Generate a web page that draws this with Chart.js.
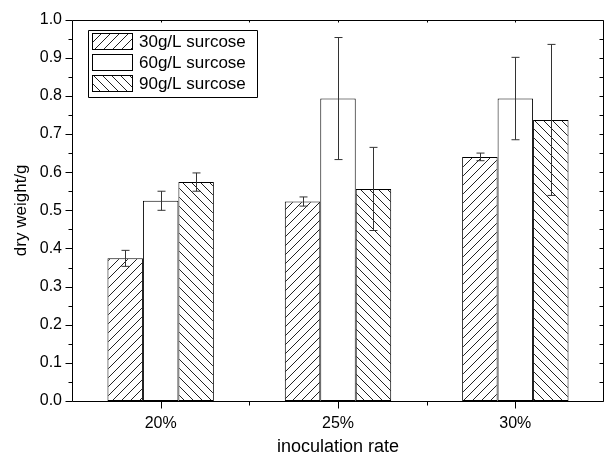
<!DOCTYPE html>
<html>
<head>
<meta charset="utf-8">
<script src="https://cdn.jsdelivr.net/npm/chart.js@4/dist/chart.umd.min.js"></script>
<style>
  body { margin: 0; background: #fff; }
  canvas { display: block; }
</style>
</head>
<body>
<canvas id="grafico" width="607" height="458"></canvas>
<script>
// dados
const categories = ['20%', '25%', '30%'];
const seriesNames = ['30g/L surcose', '60g/L surcose', '90g/L surcose'];
const dry30 = [0.374, 0.523, 0.640];
const err30 = [0.021, 0.012, 0.010];
const dry60 = [0.525, 0.793, 0.793];
const err60 = [0.025, 0.160, 0.108];
const dry90 = [0.574, 0.556, 0.737];
const err90 = [0.024, 0.109, 0.198];
const yTicks = [0, 0.1, 0.2, 0.3, 0.4, 0.5, 0.6, 0.7, 0.8, 0.9, 1.0];

const FONT = "'Liberation Sans', Arial, sans-serif";

// hachura com linhas diagonais
function hatch(dir) {
  const s = 9;
  const c = document.createElement('canvas');
  c.width = s; c.height = s;
  const g = c.getContext('2d');
  g.fillStyle = '#fff';
  g.fillRect(0, 0, s, s);
  g.strokeStyle = '#222';
  g.lineWidth = 1;
  g.beginPath();
  if (dir === '/') {
    g.moveTo(-1, s + 1); g.lineTo(s + 1, -1);
    g.moveTo(-2, 1); g.lineTo(1, -2);
    g.moveTo(s - 1, s + 2); g.lineTo(s + 2, s - 1);
  } else {
    g.moveTo(-1, -1); g.lineTo(s + 1, s + 1);
    g.moveTo(-2, s - 1); g.lineTo(1, s + 2);
    g.moveTo(s - 1, -2); g.lineTo(s + 2, 1);
  }
  g.stroke();
  return document.getElementById('grafico').getContext('2d').createPattern(c, 'repeat');
}

const fills = [hatch('/'), '#ffffff', hatch('\\')];
const errors = [err30, err60, err90];

// barras de erro
const errorBars = {
  id: 'errorBars',
  afterDatasetsDraw(chart) {
    const ctx = chart.ctx;
    const y = chart.scales.y;
    ctx.save();
    ctx.strokeStyle = '#333';
    ctx.lineWidth = 1;
    chart.data.datasets.forEach((ds, i) => {
      const meta = chart.getDatasetMeta(i);
      meta.data.forEach((bar, j) => {
        const x = Math.round(bar.x) + 0.5;
        const hi = y.getPixelForValue(ds.data[j] + errors[i][j]);
        const lo = y.getPixelForValue(ds.data[j] - errors[i][j]);
        ctx.beginPath();
        ctx.moveTo(x, hi); ctx.lineTo(x, lo);
        ctx.moveTo(x - 4, hi); ctx.lineTo(x + 4, hi);
        ctx.moveTo(x - 4, lo); ctx.lineTo(x + 4, lo);
        ctx.stroke();
      });
    });
    ctx.restore();
  }
};

// moldura, ticks e legenda
const frame = {
  id: 'frame',
  afterDraw(chart) {
    const ctx = chart.ctx;
    const a = chart.chartArea;
    const x = chart.scales.x, y = chart.scales.y;
    const L = Math.round(a.left) + 0.5, R = Math.round(a.right) - 0.5;
    const T = Math.round(a.top) + 0.5, B = Math.round(a.bottom) + 0.5;
    ctx.save();
    ctx.strokeStyle = '#000';
    ctx.lineWidth = 1;
    ctx.beginPath();
    ctx.rect(L, T, R - L, B - T);
    // eixo y: ticks principais e secundários
    for (let k = 0; k <= 20; k++) {
      const py = Math.round(y.getPixelForValue(k * 0.05)) + 0.5;
      const len = k % 2 === 0 ? 7 : 4;
      ctx.moveTo(L - len, py); ctx.lineTo(L, py);
      ctx.moveTo(R - 4, py); ctx.lineTo(R, py);
    }
    // eixo x
    categories.forEach((c, i) => {
      const px = Math.round(x.getPixelForValue(i)) + 0.5;
      ctx.moveTo(px, B); ctx.lineTo(px, B + 7);
      ctx.moveTo(px, T); ctx.lineTo(px, T + 2);
      if (i > 0) {
        const mx = Math.round((x.getPixelForValue(i) + x.getPixelForValue(i - 1)) / 2) + 0.5;
        ctx.moveTo(mx, B); ctx.lineTo(mx, B + 4);
        ctx.moveTo(mx, T); ctx.lineTo(mx, T + 2);
      }
    });
    ctx.stroke();

    // legenda
    ctx.beginPath();
    ctx.rect(88.5, 30.5, 169, 67);
    ctx.stroke();
    ctx.font = '17px ' + FONT;
    ctx.textBaseline = 'middle';
    seriesNames.forEach((name, i) => {
      const top = 33.5 + i * 21;
      ctx.fillStyle = fills[i];
      ctx.fillRect(92.5, top, 40, 16);
      ctx.strokeRect(92.5, top, 40, 16);
      ctx.fillStyle = '#000';
      ctx.fillText(name, 139, top + 8.5);
    });
    ctx.restore();
  }
};

new Chart(document.getElementById('grafico'), {
  type: 'bar',
  data: {
    labels: categories,
    datasets: [dry30, dry60, dry90].map((vals, i) => ({
      label: seriesNames[i],
      data: vals,
      backgroundColor: fills[i],
      borderColor: '#000',
      borderWidth: 1,
      borderSkipped: false,
      categoryPercentage: 0.6,
      barPercentage: 1.0
    }))
  },
  options: {
    responsive: false,
    animation: false,
    layout: { padding: { top: 15, right: 3, left: 0, bottom: 0 } },
    plugins: { legend: { display: false }, tooltip: { enabled: false } },
    scales: {
      x: {
        grid: { display: false, drawTicks: false },
        border: { display: false },
        ticks: { color: '#000', padding: 13, font: { family: FONT, size: 16 } },
        title: { display: true, text: 'inoculation rate', color: '#000', padding: 0, font: { family: FONT, size: 18 } },
        afterFit(s) { s.height = 57; }
      },
      y: {
        min: 0,
        max: 1,
        afterBuildTicks(s) { s.ticks = yTicks.map(v => ({ value: v })); },
        grid: { display: false, drawTicks: false },
        border: { display: false },
        ticks: { color: '#000', padding: 10, font: { family: FONT, size: 16 }, callback: v => v.toFixed(1) },
        title: { display: true, text: 'dry weight/g', color: '#000', padding: { top: 11, bottom: 0 }, font: { family: FONT, size: 17 } },
        afterFit(s) { s.width = 72; }
      }
    }
  },
  plugins: [errorBars, frame]
});
</script>
</body>
</html>
